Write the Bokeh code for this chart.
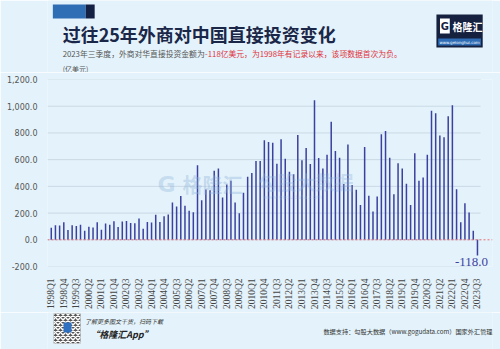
import math
from bokeh.plotting import figure
from bokeh.layouts import column
from bokeh.models import (Label, Span, FixedTicker, NumeralTickFormatter, Range1d)
from bokeh.embed import file_html
from bokeh.resources import INLINE

# ---------------- data ----------------
years = list(range(1998, 2024))
quarters = [f"{y}Q{q}" for y in years for q in (1, 2, 3, 4)][:103]  # 1998Q1 .. 2023Q3
fdi = [
    90, 109, 107, 131, 73, 109, 104, 112, 68, 97, 92, 131, 75, 121, 112, 138, 95, 136, 141, 126,
    124, 160, 83, 133, 129, 187, 133, 177, 189,
    279, 250, 328, 255, 218, 206, 558, 296, 376, 371, 517, 534, 316, 413, 442, 279, 199, 352, 471, 500,
    590, 590, 745, 733, 726, 570, 752, 607, 510, 490, 784, 595, 687, 568, 1044, 612, 534, 636, 883,
    665, 614, 417, 714, 410, 374, 260, 694, 330, 211, 325, 791, 815, 614, 340, 573, 534, 420, 260, 648,
    442, 466, 636, 966, 947, 781, 767, 925, 1007, 379, 131, 274, 204, 68, -118,
]
y_ticks = [-200, 0, 200, 400, 600, 800, 1000, 1200]
last_label = "-118.0"

title_text = "过往25年外商对中国直接投资变化"
sub_gray = "2023年三季度，外商对华直接投资金额为"
sub_red = "-118亿美元，为1998年有记录以来，该项数据首次为负。"
unit_text = "(亿美元)"
source_text = "数据支持：勾股大数据（www.gogudata.com）国家外汇管理局"

# ---------------- layout constants ----------------
W = 500
HEAD_H, MAIN_H, FOOT_H = 72, 240, 37
BG = "#e4f3fb"
BAR = "#3b41a0"
FONT = "Noto Sans CJK SC"


def deco_fig(h, y0):
    f = figure(width=W, height=h, output_backend="svg", toolbar_location=None,
               x_range=Range1d(0, W), y_range=Range1d(y0 + h, y0),
               x_axis_type=None, y_axis_type=None,
               min_border_left=0, min_border_right=0, min_border_top=0, min_border_bottom=0)
    f.background_fill_color = BG
    f.border_fill_color = BG
    f.outline_line_color = None
    f.grid.grid_line_color = None
    return f


def lab(f, cx, cy, text, size, color="#333333", style="normal", font=FONT,
        align="left", baseline="middle", alpha=1.0):
    f.add_layout(Label(x=cx, y=cy, text=text, text_font=font, text_font_size=f"{size}px",
                       text_color=color, text_font_style=style, text_align=align,
                       text_baseline=baseline, text_alpha=alpha))


def box(f, x1, y1, x2, y2, color, alpha=1.0, **kw):
    f.quad(left=x1, right=x2, top=y1, bottom=y2, fill_color=color, fill_alpha=alpha,
           line_color=None, **kw)


# ---------------- header ----------------
head = deco_fig(HEAD_H, 0)
box(head, 6, 4, 43, 18, "#2f6db5")
box(head, 43, 4, 53, 18, "#142044")
lab(head, 17, 33, title_text, 18, color="#1b2748", style="bold")
lab(head, 17, 53, sub_gray, 7.8, color="#555555")
lab(head, 177, 53, sub_red, 7.8, color="#e0323c")
lab(head, 17, 68, unit_text, 7, color="#555555")
# logo
box(head, 437, 14, 489, 47, "#16213f")
box(head, 441, 18, 452, 33, "#ffffff")
lab(head, 446.5, 25.5, "G", 10, color="#16213f", style="bold", font="DejaVu Sans", align="center")
lab(head, 455, 25.5, "格隆汇", 10, color="#ffffff", style="bold")
box(head, 439, 38, 487, 45, "#2e6db5")
lab(head, 463, 41.5, "www.gelonghui.com", 4, color="#ffffff", font="DejaVu Sans", align="center")

# ---------------- main chart ----------------
L, R = 47, 8
FRAME_TOP, FRAME_BOT = 79, 271
x = list(range(len(fdi)))

p = figure(width=W, height=MAIN_H, output_backend="svg", toolbar_location=None,
           x_range=Range1d(-0.9, 105.6), y_range=Range1d(-200, 1200),
           min_border_left=L, min_border_right=R,
           min_border_top=FRAME_TOP - HEAD_H, min_border_bottom=HEAD_H + MAIN_H - FRAME_BOT)
p.background_fill_color = BG
p.border_fill_color = BG
p.outline_line_color = None

# horizontal grid lines (stop at the last quarter, as in the reference)
p.segment(x0=[-0.9] * len(y_ticks), x1=[102.75] * len(y_ticks), y0=y_ticks, y1=y_ticks,
          line_color="#c9d9e4", line_width=1)
p.add_layout(Span(location=0, dimension="width", line_color="#e8707a", line_dash="2 2",
                  line_width=1))

p.vbar(x=x, top=fdi, bottom=0, width=0.36, fill_color=BAR, line_color=None)

# axes
p.yaxis.ticker = FixedTicker(ticks=y_ticks)
p.yaxis.formatter = NumeralTickFormatter(format="0,0.0")
p.yaxis.major_label_text_font = "DejaVu Sans"
p.yaxis.major_label_text_font_size = "8px"
p.yaxis.major_label_text_color = "#555555"
p.yaxis.major_label_standoff = 4
p.yaxis.axis_line_color = None
p.yaxis.major_tick_line_color = None
p.yaxis.minor_tick_line_color = None

p.xaxis.ticker = FixedTicker(ticks=list(range(0, len(fdi), 3)))
p.xaxis.major_label_overrides = {i: quarters[i] for i in range(0, len(fdi), 3)}
p.xaxis.major_label_orientation = math.pi / 2
p.xaxis.major_label_text_font = "Liberation Serif"
p.xaxis.major_label_text_font_size = "9.5px"
p.xaxis.major_label_text_color = "#444444"
p.xaxis.major_label_standoff = 6
p.xaxis.axis_line_color = None
p.xaxis.major_tick_line_color = None
p.xaxis.minor_tick_line_color = None

p.grid.grid_line_color = None

p.add_layout(Label(x=x[-1], y=fdi[-1], text=last_label, text_align="center", text_baseline="top",
                   x_offset=-6, y_offset=-2, text_color=BAR, text_font="Liberation Serif",
                   text_font_size="13px"))


def wlab(cx, cy, text, size, color, style="normal", font=FONT, alpha=0.4):
    p.add_layout(Label(x=cx - L, y=FRAME_BOT - cy, x_units="screen", y_units="screen", text=text,
                       text_font=font, text_font_size=f"{size}px", text_color=color,
                       text_font_style=style, text_baseline="middle", text_alpha=alpha))


# faint watermark
wlab(157, 189, "G", 22, "#8fb2da", style="bold", font="DejaVu Sans", alpha=0.35)
wlab(182, 189, "格隆汇", 20, "#8fb2da", style="bold", alpha=0.4)
wlab(258, 186, "勾股大数据", 19, "#8fb2da", style="bold", alpha=0.35)
wlab(262, 201, "www.gogudata.com", 6, "#8fb2da", font="DejaVu Sans", alpha=0.4)

# ---------------- footer ----------------
y0 = HEAD_H + MAIN_H
foot = deco_fig(FOOT_H, y0)
box(foot, 7, 313, 37, 343, "#555555", hatch_pattern="diagonal_cross", hatch_color="#ffffff",
    hatch_scale=5, hatch_weight=1.5)
box(foot, 18, 322, 27, 332, "#2d6fc0")
lab(foot, 42, 321, "了解更多图文干货，扫码下载", 6, color="#333333", style="italic")
lab(foot, 48, 334, "“格隆汇App”", 9, color="#222222", style="bold italic")
lab(foot, 310, 331, source_text, 6.2, color="#333333")

layout = column(head, p, foot, spacing=0)
open("out.html", "w").write(file_html(layout, INLINE))
